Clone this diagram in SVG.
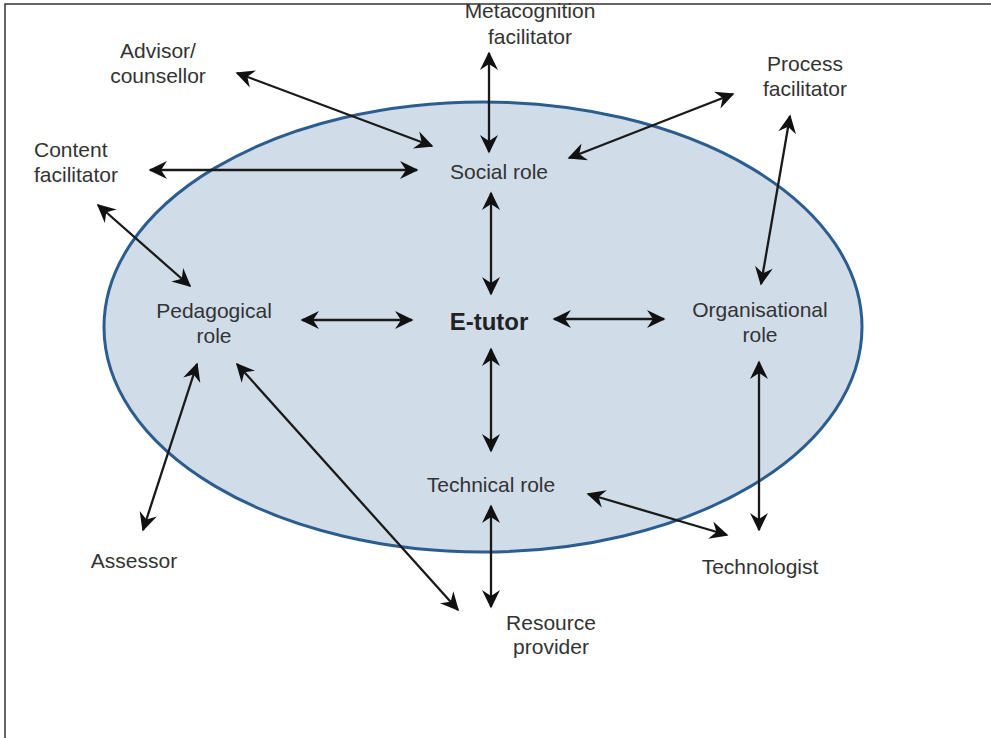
<svg xmlns="http://www.w3.org/2000/svg" width="991" height="738" viewBox="0 0 991 738">
<defs>
<marker id="ah" viewBox="-19 -10 21 20" refX="0" refY="0" markerWidth="21" markerHeight="20" markerUnits="userSpaceOnUse" orient="auto-start-reverse">
<path d="M1.5,0 L-17,-9 L-11,0 L-17,9 Z" fill="#111"/>
</marker>
</defs>
<style>
.lbl{font-family:"Liberation Sans",Arial,sans-serif;font-size:21px;fill:#333;text-anchor:middle}
.st{text-anchor:start}
.bold{font-family:"Liberation Sans",Arial,sans-serif;font-size:24px;font-weight:bold;fill:#222;text-anchor:middle}
.con line{stroke:#1a1a1a;stroke-width:2.3;marker-start:url(#ah);marker-end:url(#ah)}
</style>
<rect width="991" height="738" fill="#fff"/>
<path d="M5,738 L5,4 L991,4" fill="none" stroke="#333" stroke-width="1.5"/>
<ellipse id="ring" cx="483" cy="327" rx="379" ry="225" fill="#d1dce9" stroke="#2c5d8f" stroke-width="3"/>
<g class="con" id="connectors">
<line x1="489" y1="53" x2="489" y2="152"/>
<line x1="237" y1="73" x2="432" y2="146"/>
<line x1="150" y1="170" x2="417" y2="170"/>
<line x1="733" y1="94" x2="569" y2="158"/>
<line x1="790" y1="116" x2="761" y2="284"/>
<line x1="98" y1="205" x2="190" y2="286"/>
<line x1="491" y1="193" x2="491" y2="294"/>
<line x1="302" y1="320" x2="412" y2="320"/>
<line x1="554" y1="319" x2="664" y2="319"/>
<line x1="491" y1="349" x2="491" y2="451"/>
<line x1="759" y1="362" x2="759" y2="530"/>
<line x1="588" y1="494" x2="727" y2="535"/>
<line x1="491" y1="506" x2="491" y2="607"/>
<line x1="237" y1="364" x2="458" y2="610"/>
<line x1="197" y1="364" x2="143" y2="530"/>
</g>
<g id="metacognition"><text class="lbl" x="530" y="18">Metacognition</text><text class="lbl" x="530" y="44">facilitator</text></g>
<g id="advisor"><text class="lbl" x="158" y="58">Advisor/</text><text class="lbl" x="158" y="83">counsellor</text></g>
<g id="content"><text class="lbl st" x="34" y="157">Content</text><text class="lbl st" x="34" y="182">facilitator</text></g>
<g id="process"><text class="lbl" x="805" y="71">Process</text><text class="lbl" x="805" y="96">facilitator</text></g>
<g id="social"><text class="lbl" x="499" y="179">Social role</text></g>
<g id="pedagogical"><text class="lbl" x="214" y="318">Pedagogical</text><text class="lbl" x="214" y="343">role</text></g>
<g id="etutor"><text class="bold" x="489" y="330">E-tutor</text></g>
<g id="organisational"><text class="lbl" x="760" y="317">Organisational</text><text class="lbl" x="760" y="342">role</text></g>
<g id="technical"><text class="lbl" x="491" y="492">Technical role</text></g>
<g id="technologist"><text class="lbl" x="760" y="574">Technologist</text></g>
<g id="assessor"><text class="lbl" x="134" y="568">Assessor</text></g>
<g id="resource"><text class="lbl" x="551" y="630">Resource</text><text class="lbl" x="551" y="654">provider</text></g>
</svg>
